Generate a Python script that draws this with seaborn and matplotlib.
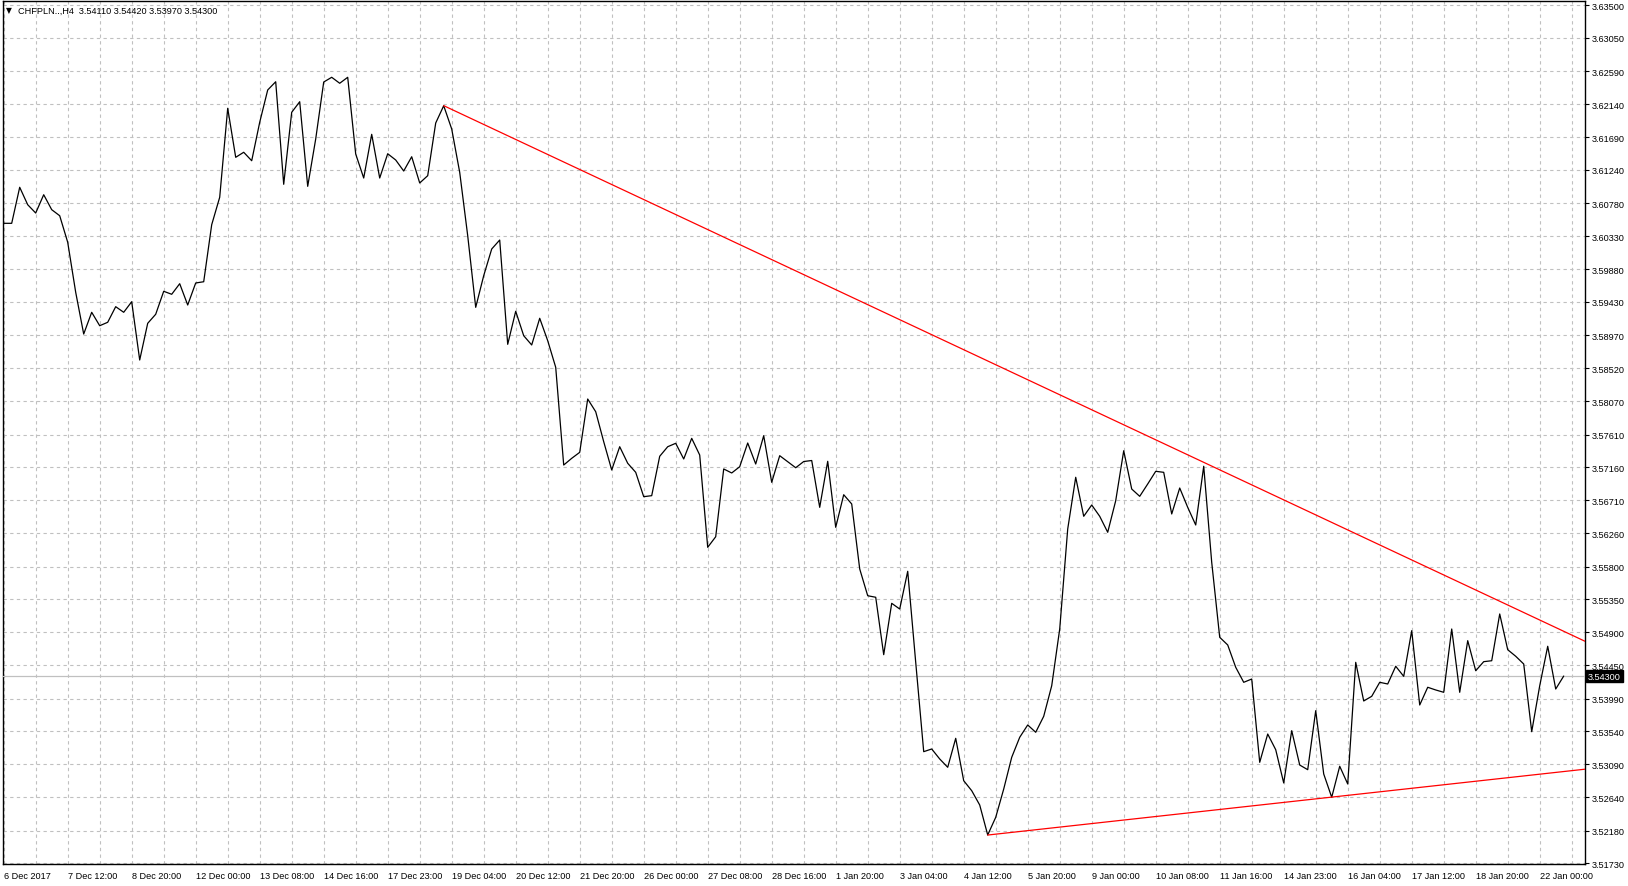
import numpy as np
import pandas as pd
import matplotlib
matplotlib.use("Agg")
import matplotlib.pyplot as plt
import seaborn as sns

# ---------------- data ----------------
symbol = "CHFPLN..,H4"
ohlc = [3.54110, 3.54420, 3.53970, 3.54300]

prices = [
    3.60507, 3.60507, 3.61001, 3.60762, 3.60648, 3.60899, 3.60694, 3.60611, 3.60247, 3.59561,
    3.58989, 3.59287, 3.59103, 3.59150, 3.59364, 3.59287, 3.59432, 3.58633, 3.59136, 3.59260,
    3.59575, 3.59534, 3.59679, 3.59387, 3.59689, 3.59706, 3.60488, 3.60864, 3.62084, 3.61412,
    3.61481, 3.61365, 3.61892, 3.62335, 3.62448, 3.61042, 3.62029, 3.62174, 3.61014, 3.61663,
    3.62444, 3.62509, 3.62427, 3.62509, 3.61457, 3.61128, 3.61727, 3.61128, 3.61461, 3.61375,
    3.61224, 3.61420, 3.61060, 3.61160, 3.61882, 3.62119, 3.61800, 3.61206, 3.60337, 3.59355,
    3.59789, 3.60155, 3.60278, 3.58848, 3.59301, 3.58966, 3.58839, 3.59205, 3.58898, 3.58533,
    3.57193, 3.57285, 3.57367, 3.58098, 3.57924, 3.57513, 3.57125, 3.57444, 3.57217, 3.57093,
    3.56759, 3.56773, 3.57313, 3.57444, 3.57491, 3.57276, 3.57559, 3.57330, 3.56065, 3.56210,
    3.57139, 3.57084, 3.57170, 3.57495, 3.57207, 3.57595, 3.56956, 3.57321, 3.57239, 3.57156,
    3.57241, 3.57255, 3.56613, 3.57244, 3.56339, 3.56786, 3.56659, 3.55768, 3.55401, 3.55380,
    3.54593, 3.55297, 3.55219, 3.55736, 3.54488, 3.53263, 3.53300, 3.53163, 3.53049, 3.53446,
    3.52865, 3.52728, 3.52532, 3.52121, 3.52363, 3.52751, 3.53186, 3.53460, 3.53629, 3.53529,
    3.53748, 3.54167, 3.54945, 3.56316, 3.57025, 3.56490, 3.56645, 3.56490, 3.56271, 3.56704,
    3.57389, 3.56864, 3.56764, 3.56933, 3.57107, 3.57093, 3.56522, 3.56878, 3.56613, 3.56371,
    3.57176, 3.55859, 3.54831, 3.54726, 3.54420, 3.54214, 3.54259, 3.53117, 3.53505, 3.53290,
    3.52834, 3.53551, 3.53080, 3.53016, 3.53825, 3.52957, 3.52638, 3.53063, 3.52820, 3.54488,
    3.53958, 3.54022, 3.54214, 3.54191, 3.54434, 3.54296, 3.54922, 3.53903, 3.54146, 3.54109,
    3.54077, 3.54945, 3.54077, 3.54785, 3.54373, 3.54497, 3.54510, 3.55151, 3.54661, 3.54571,
    3.54465, 3.53537, 3.54167, 3.54708, 3.54122, 3.54300,
]

date_labels = [
    "6 Dec 2017", "7 Dec 12:00", "8 Dec 20:00", "12 Dec 00:00", "13 Dec 08:00",
    "14 Dec 16:00", "17 Dec 23:00", "19 Dec 04:00", "20 Dec 12:00", "21 Dec 20:00",
    "26 Dec 00:00", "27 Dec 08:00", "28 Dec 16:00", "1 Jan 20:00", "3 Jan 04:00",
    "4 Jan 12:00", "5 Jan 20:00", "9 Jan 00:00", "10 Jan 08:00", "11 Jan 16:00",
    "14 Jan 23:00", "16 Jan 04:00", "17 Jan 12:00", "18 Jan 20:00", "22 Jan 00:00",
]

price_ticks = [
    3.63500, 3.63050, 3.62590, 3.62140, 3.61690, 3.61240, 3.60780, 3.60330, 3.59880,
    3.59430, 3.58970, 3.58520, 3.58070, 3.57610, 3.57160, 3.56710, 3.56260, 3.55800,
    3.55350, 3.54900, 3.54450, 3.53990, 3.53540, 3.53090, 3.52640, 3.52180, 3.51730,
]

# trendline anchors (bar index, price)
trend_high = ([55, 150], [3.6212, 3.5723])
trend_low = ([123, 166], [3.5212, 3.5264])

# ---------------- style ----------------
sns.set_style("white")
plt.rcParams["font.family"] = ["Liberation Sans", "DejaVu Sans"]
FS = 6.6
GRID = "#c0c0c0"

W, H = 1628, 887
fig = plt.figure(figsize=(W / 100, H / 100), dpi=100)
ax_left, ax_right, ax_top, ax_bottom = 2.5, 1585, 2, 865
ax = fig.add_axes([ax_left / W, 1 - ax_bottom / H,
                   (ax_right - ax_left) / W, (ax_bottom - ax_top) / H])

bars = np.arange(len(prices))
df = pd.DataFrame({"bar": bars, "price": prices})

XMIN, XMAX = -0.15, 197.66
YMIN, YMAX = 3.51723, 3.63555

sns.lineplot(data=df, x="bar", y="price", ax=ax, color="black",
             linewidth=0.9, estimator=None, zorder=4)

# trend rays
for (xs, ys) in (trend_high, trend_low):
    slope = (ys[1] - ys[0]) / (xs[1] - xs[0])
    rx = [xs[0], XMAX]
    ry = [ys[0], ys[0] + slope * (XMAX - xs[0])]
    sns.lineplot(x=rx, y=ry, ax=ax, color="red", linewidth=0.9,
                 estimator=None, zorder=5)

last = prices[-1]
ax.axhline(last, color=GRID, linewidth=0.9, zorder=3)

ax.set_xlim(XMIN, XMAX)
ax.set_ylim(YMIN, YMAX)
ax.set_xlabel("")
ax.set_ylabel("")

# x ticks
major_x = np.arange(0, len(date_labels) * 8, 8)
minor_x = np.arange(4, XMAX, 8)
ax.set_xticks(major_x)
ax.set_xticklabels(date_labels)
ax.set_xticks(minor_x, minor=True)
for lbl in ax.get_xticklabels():
    lbl.set_ha("left")

# y ticks (right)
ax.yaxis.tick_right()
ax.set_yticks(price_ticks)
ax.set_yticklabels([f"{v:.5f}" for v in price_ticks])

ax.tick_params(axis="both", which="both", direction="out", length=3,
               width=0.8, colors="black", labelsize=FS)
ax.tick_params(axis="x", which="both", pad=2)
ax.tick_params(axis="y", which="both", pad=2)

ax.grid(True, which="both", axis="both", color=GRID,
        linestyle=(0, (3, 3)), linewidth=0.8)
ax.set_axisbelow(True)

for sp in ax.spines.values():
    sp.set_visible(True)
    sp.set_color("black")
    sp.set_linewidth(1.0)

# current price marker on the axis
ax.text(1.0 + 3 / (ax_right - ax_left), last, f"{last:.5f}",
        transform=ax.get_yaxis_transform(), ha="left", va="center",
        color="white", fontsize=FS, zorder=10, clip_on=False,
        bbox=dict(boxstyle="square,pad=0.18", fc="black", ec="black"))

# header
fig.text(6 / W, 1 - 11 / H, "\u25BC", fontsize=5.5, family="DejaVu Sans",
         va="center", ha="left", color="black")
fig.text(18 / W, 1 - 11 / H,
         symbol + "  " + " ".join(f"{v:.5f}" for v in ohlc),
         fontsize=FS, va="center", ha="left", color="black")

fig.savefig("out.png", dpi=100, facecolor="white")
